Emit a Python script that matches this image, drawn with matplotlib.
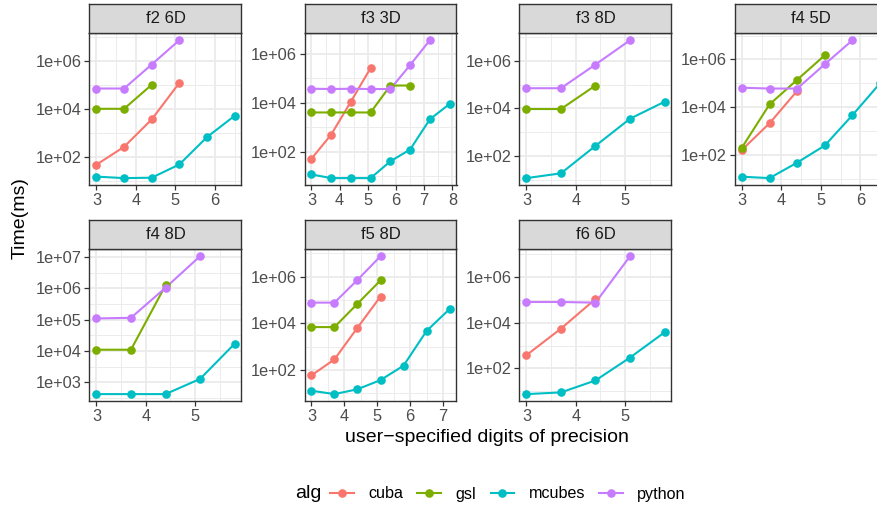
import matplotlib

matplotlib.use("Agg")
import matplotlib.pyplot as plt
import numpy as np
from matplotlib.lines import Line2D
from matplotlib.ticker import FixedLocator, NullFormatter

plt.rcParams["font.family"] = ["Liberation Sans", "DejaVu Sans"]

# x positions shared by every panel (user-specified digits of precision)
digits = [3.0, 3.7, 4.4, 5.1, 5.8, 6.5, 7.2, 7.9]
panels = ["f2 6D", "f3 3D", "f3 8D", "f4 5D", "f4 8D", "f5 8D", "f6 6D"]
algs = ["cuba", "gsl", "mcubes", "python"]

# time in ms, one list per panel, starting at digits[0]
cuba = {
    "f2 6D": [47, 260, 3600, 1.2e5],
    "f3 3D": [52, 500, 1.1e4, 2.6e5],
    "f4 5D": [160, 2100, 4.8e4],
    "f5 8D": [59, 285, 6500, 1.4e5],
    "f6 6D": [380, 5500, 1.08e5],
}
gsl = {
    "f2 6D": [1e4, 1e4, 1e5],
    "f3 3D": [4000, 4000, 4000, 4000, 5e4, 5e4],
    "f3 8D": [9400, 9400, 9.1e4],
    "f4 5D": [200, 1.3e4, 1.4e5, 1.5e6],
    "f4 8D": [1.1e4, 1.1e4, 1.25e6],
    "f5 8D": [6900, 6900, 6.9e4, 6.9e5],
}
mcubes = {
    "f2 6D": [15, 13, 13.5, 48, 660, 5100],
    "f3 3D": [12, 8.5, 8.5, 8.5, 41, 124, 2100, 8900],
    "f3 8D": [12, 19, 270, 3700, 1.9e4],
    "f4 5D": [12, 10.5, 47, 245, 4600, 1e5],
    "f4 8D": [420, 420, 420, 1280, 1.7e4],
    "f5 8D": [13, 9.3, 15, 37, 154, 4700, 4.1e4],
    "f6 6D": [7.6, 9, 30, 300, 3800],
}
python = {
    "f2 6D": [7e4, 7e4, 7e5, 7.2e6],
    "f3 3D": [3.7e4, 3.6e4, 3.7e4, 3.6e4, 3.6e4, 3.4e5, 3.5e6],
    "f3 8D": [7e4, 7e4, 6.9e5, 7.2e6],
    "f4 5D": [6.5e4, 6e4, 6e4, 6.3e5, 6.4e6],
    "f4 8D": [1.1e5, 1.15e5, 1.05e6, 1.07e7],
    "f5 8D": [7.7e4, 7.7e4, 7.2e5, 7.5e6],
    "f6 6D": [8e4, 8e4, 7.5e4, 8e6],
}
series = {"cuba": cuba, "gsl": gsl, "mcubes": mcubes, "python": python}

colours = {"cuba": "#F8766D", "gsl": "#7CAE00", "mcubes": "#00BFC4", "python": "#C77CFF"}
decade_step = {"f4 8D": 1}  # others label every second decade

W, H = 878, 508
fig = plt.figure(figsize=(W / 100, H / 100), dpi=100)

col_left = [89.5, 304.5, 519.5, 735.0]
row_top = [33.3, 249.3]
pw, ph, sh = 152.0, 151.7, 29.5
LW, MS = 1.5, 6.2
TICK_FS, STRIP_FS, TITLE_FS = 11.8, 12.0, 14.0


def padded(lo, hi):
    pad = 0.05 * (hi - lo)
    return lo - pad, hi + pad


for i, name in enumerate(panels):
    r, c = divmod(i, 4)
    x0, y0 = col_left[c], row_top[r]
    ax = fig.add_axes([x0 / W, 1 - (y0 + ph) / H, pw / W, ph / H])
    sax = fig.add_axes([x0 / W, 1 - y0 / H, pw / W, sh / H])

    present = [a for a in algs if name in series[a]]
    xs_all, ly_all = [], []
    for a in present:
        vals = series[a][name]
        xs_all += digits[: len(vals)]
        ly_all += list(np.log10(vals))

    # lines first, then points (as ggplot layers)
    for a in present:
        vals = series[a][name]
        ax.plot(digits[: len(vals)], vals, "-", color=colours[a], lw=LW, zorder=2)
    for a in present:
        vals = series[a][name]
        ax.plot(digits[: len(vals)], vals, "o", color=colours[a], ms=MS,
                markeredgewidth=0, zorder=3)

    ax.set_yscale("log")
    xlo, xhi = padded(min(xs_all), max(xs_all))
    ylo, yhi = padded(min(ly_all), max(ly_all))
    ax.set_xlim(xlo, xhi)
    ax.set_ylim(10 ** ylo, 10 ** yhi)

    step = decade_step.get(name, 2)
    majors = [k for k in range(int(np.floor(ylo)), int(np.ceil(yhi)) + 1)
              if k % step == 0 and ylo <= k <= yhi]
    minors = [k + step / 2 for k in range(int(np.floor(ylo)) - 2, int(np.ceil(yhi)) + 1)
              if k % step == 0 and ylo <= k + step / 2 <= yhi]
    ax.yaxis.set_major_locator(FixedLocator([10.0 ** k for k in majors]))
    ax.set_yticklabels([f"{10.0 ** k:.0e}" for k in majors])
    ax.yaxis.set_minor_locator(FixedLocator([10.0 ** k for k in minors]))
    ax.yaxis.set_minor_formatter(NullFormatter())

    xt = list(range(int(np.ceil(xlo)), int(np.floor(xhi)) + 1))
    ax.set_xticks(xt)
    ax.set_xticks([v + 0.5 for v in range(int(np.floor(xlo)), int(np.ceil(xhi)))
                   if xlo <= v + 0.5 <= xhi], minor=True)

    ax.set_axisbelow(True)
    ax.grid(which="major", color="#EBEBEB", lw=1.3)
    ax.grid(which="minor", color="#EBEBEB", lw=0.65)
    ax.tick_params(which="major", length=3.3, width=0.9, color="#333333",
                   labelcolor="#4D4D4D", labelsize=TICK_FS, pad=2.5)
    ax.tick_params(which="minor", length=0)
    for sp in ax.spines.values():
        sp.set_color("#333333")
        sp.set_linewidth(1.0)

    sax.set_facecolor("#D9D9D9")
    sax.set_xticks([])
    sax.set_yticks([])
    for sp in sax.spines.values():
        sp.set_color("#333333")
        sp.set_linewidth(1.0)
    sax.text(0.5, 0.5, name, ha="center", va="center", color="#1A1A1A",
             fontsize=STRIP_FS, transform=sax.transAxes)

fig.text(487 / W, 1 - 438 / H, "user\u2212specified digits of precision",
         ha="center", va="center", fontsize=TITLE_FS)
fig.text(20 / W, 1 - 218 / H, "Time(ms)", ha="center", va="center",
         rotation=90, fontsize=TITLE_FS)

handles = [Line2D([], [], color=colours[a], lw=LW, marker="o", ms=MS,
                  markeredgewidth=0) for a in algs]
fig.legend(handles, algs, ncol=4, loc="center", bbox_to_anchor=(508 / W, 1 - 494 / H),
           frameon=False, fontsize=11.6, handlelength=1.45, handletextpad=0.9,
           columnspacing=0.9)
fig.text(308 / W, 1 - 494 / H, "alg", ha="center", va="center", fontsize=TITLE_FS)

fig.savefig("out.png", dpi=100)
